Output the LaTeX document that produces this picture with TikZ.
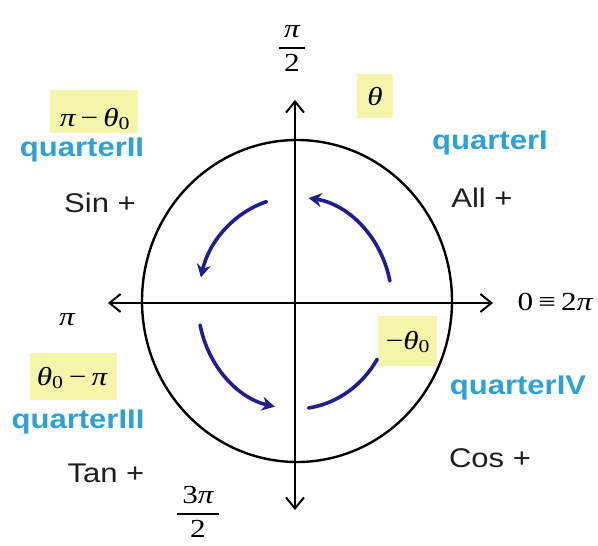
\documentclass[tikz,border=0pt]{standalone}
\usepackage{fontspec}
\setmainfont{Liberation Sans}
\newfontfamily\serif{Liberation Serif}
\usetikzlibrary{arrows.meta}
\definecolor{hl}{RGB}{245,246,172}
\definecolor{qblue}{RGB}{45,160,212}
\definecolor{navy}{RGB}{32,30,140}
\newcommand{\fracstack}[2]{\renewcommand\arraystretch{1.1}\setlength\arrayrulewidth{1.3pt}\begin{tabular}{@{\,}c@{\,}}#1\\\hline #2\end{tabular}}
\tikzset{
  sanslbl/.style={font=\fontsize{27}{30}\selectfont, xscale=1.15, inner sep=0pt, text=black!88},
  quartlbl/.style={font=\fontsize{27}{30}\selectfont\bfseries, xscale=1.15, inner sep=0pt, text=qblue},
  mathlbl/.style={font=\fontsize{26}{30}\selectfont\serif, xscale=1.2, inner sep=0pt},
  hlbox/.style={fill=hl, draw=none},
  axisline/.style={line width=2.2pt, -{Straight Barb[length=11pt,width=18pt,line width=2pt]}},
  rim/.style={line width=2.4pt},
  turn/.style={line width=3.6pt, navy, line cap=round},
  turnarrow/.style={turn, -{Stealth[length=13pt,width=14pt]}}
}
\begin{document}
\begin{tikzpicture}[x=1pt,y=-1pt]
\useasboundingbox[fill=white] (0,0) rectangle (598,546);
% highlights
\fill[hlbox] (357,74) rectangle (393,118);
\fill[hlbox] (50,90) rectangle (138,133);
\fill[hlbox] (30,353) rectangle (117,400);
\fill[hlbox] (378,316) rectangle (437,366);
% axes
\coordinate (O) at (295,303);
\coordinate (xl) at (108,303);
\coordinate (xr) at (493,303);
\coordinate (yt) at (295,100);
\coordinate (yb) at (295,510);
\draw[axisline] (O) -- (xr);
\draw[axisline] (O) -- (xl);
\draw[axisline] (O) -- (yt);
\draw[axisline] (O) -- (yb);
% circle and turning arcs
\begin{scope}[shift={(295,303)},x=1pt,y=1pt]
  \draw[rim] (2,2) ellipse[x radius=155, y radius=161];
  \draw[turnarrow] ({97*cos(12)},{106*sin(12)}) arc[start angle=12,end angle=82,x radius=97,y radius=106];
  \draw[turnarrow] ({97*cos(107)},{106*sin(107)}) arc[start angle=107,end angle=166,x radius=97,y radius=106];
  \draw[turnarrow] ({97*cos(192)},{106*sin(192)}) arc[start angle=192,end angle=258,x radius=97,y radius=106];
  \draw[turn] ({97*cos(278)},{106*sin(278)}) arc[start angle=278,end angle=328,x radius=97,y radius=106];
\end{scope}
% angle labels
\node[mathlbl] (halfpi) at (292,48) {\fracstack{\itshape π}{2}};
\node[mathlbl] (threehalfpi) at (198,514) {\fracstack{3\itshape π}{2}};
\node[mathlbl] (pi) at (67,320) {\itshape π};
\node[mathlbl] (zero) at (555,302) {0\,≡\,2\itshape π};
\node[mathlbl] (theta) at (375,97) {\itshape θ};
\node[mathlbl] (pimt) at (95,119) {\itshape π\upshape\,−\,\itshape θ\textsubscript{\upshape 0}};
\node[mathlbl] (tmpi) at (72,378) {\itshape θ\textsubscript{\upshape 0}\upshape\,−\,\itshape π};
\node[mathlbl] (mt) at (408,342) {−\itshape θ\textsubscript{\upshape 0}};
% quarter labels
\node[quartlbl] (q1) at (490,143) {quarterI};
\node[quartlbl] (q2) at (82,150) {quarterII};
\node[quartlbl] (q3) at (78,422) {quarterIII};
\node[quartlbl] (q4) at (518,388) {quarterIV};
% sign labels
\node[sanslbl] (s1) at (482,198) {All +};
\node[sanslbl] (s2) at (100,203) {Sin +};
\node[sanslbl] (s3) at (106,473) {Tan +};
\node[sanslbl] (s4) at (490,458) {Cos +};
\end{tikzpicture}
\end{document}
